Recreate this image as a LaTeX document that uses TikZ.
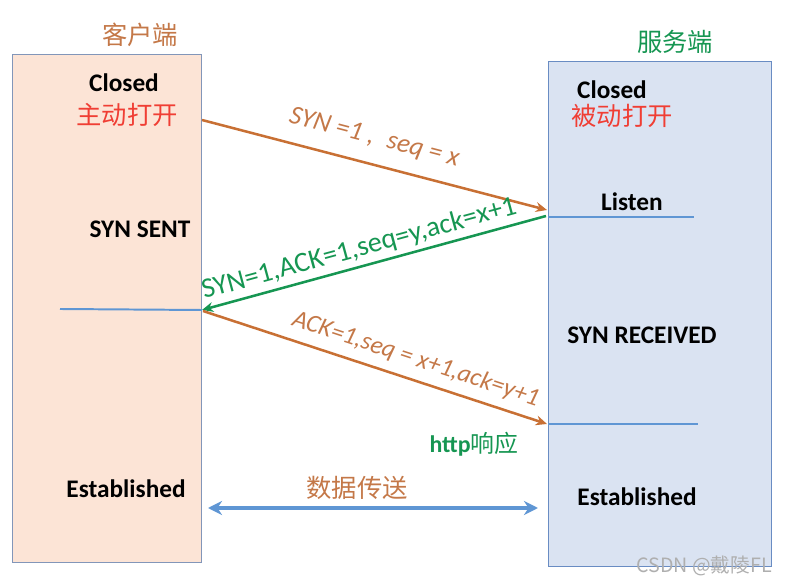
\documentclass[tikz,border=0pt]{standalone}
\usepackage{fontspec}
\setmainfont{Carlito}
\newfontfamily\cjk{Noto Sans CJK SC}
\usetikzlibrary{arrows.meta, positioning, calc}
\definecolor{clientfill}{RGB}{252,228,214}
\definecolor{clientframe}{RGB}{130,150,185}
\definecolor{serverfill}{RGB}{218,227,242}
\definecolor{serverframe}{RGB}{105,140,195}
\definecolor{mybrown}{RGB}{200,112,52}
\definecolor{mybrowntxt}{RGB}{196,120,72}
\definecolor{mygreen}{RGB}{22,150,82}
\definecolor{myblue}{RGB}{95,150,212}
\definecolor{myred}{RGB}{240,62,52}
\definecolor{mymark}{RGB}{175,175,175}
\tikzset{
  clientbox/.style={rectangle, draw=clientframe, fill=clientfill, line width=0.9pt,
    anchor=north west, inner sep=0pt, minimum width=4.725cm, minimum height=12.7cm},
  serverbox/.style={rectangle, draw=serverframe, fill=serverfill, line width=0.9pt,
    anchor=north west, inner sep=0pt, minimum width=5.575cm, minimum height=12.625cm},
  state/.style={font=\fontsize{18}{20}\selectfont\bfseries, text=black, inner sep=1pt},
  opentxt/.style={font=\cjk\fontsize{18}{20}\selectfont, text=myred, inner sep=1pt},
  title/.style={font=\cjk\fontsize{18}{20}\selectfont, inner sep=1pt},
  msg/.style={font=\fontsize{19}{21}\selectfont, sloped, inner sep=1pt},
  brownarrow/.style={-{Stealth[length=8pt,width=7pt]}, line width=1.8pt, color=mybrown},
  greenarrow/.style={-{Stealth[length=8pt,width=7pt]}, line width=1.8pt, color=mygreen},
  stateline/.style={line width=1.4pt, color=myblue},
  dataarrow/.style={{Stealth[length=10pt,width=10pt]}-{Stealth[length=10pt,width=10pt]},
    line width=2.2pt, color=myblue}
}
\begin{document}
\begin{tikzpicture}[x=0.025cm, y=-0.025cm]
  \useasboundingbox (0,0) rectangle (785,583);
  % the two sides
  \node[clientbox] (client) at (12,54) {};
  \node[serverbox] (server) at (548,61) {};
  \node[title, text=mybrowntxt] (clienttitle) at (140,35) {客户端};
  \node[title, text=mygreen] (servertitle) at (675,42) {服务端};

  % client states
  \node[state] (cclosed) at (124,83) {Closed};
  \node[opentxt] (copen) at (127,115) {主动打开};
  \node[state] (synsent) at (140,229) {SYN SENT};
  \node[state] (cest) at (126,489) {Established};

  % server states
  \node[state] (sclosed) at (612,90) {Closed};
  \node[opentxt] (sopen) at (622,116) {被动打开};
  \node[state] (listen) at (632,202) {Listen};
  \node[state] (synrcvd) at (642,335) {SYN RECEIVED};
  \node[state] (sest) at (637,497) {Established};

  % end points of the messages
  \coordinate (c1) at (202,120);
  \coordinate (s1) at (547,210);
  \coordinate (s2) at (546,216);
  \coordinate (c2) at (202,310);
  \coordinate (c3) at (203,311);
  \coordinate (s3) at (547,424);
  \coordinate (cline) at (60,309);
  \coordinate (sline1a) at (548,217);
  \coordinate (sline1b) at (694,217);
  \coordinate (sline2a) at (548,424);
  \coordinate (sline2b) at (698,424);
  \coordinate (dataL) at (208,508);
  \coordinate (dataR) at (538,508);

  \draw[stateline] (cline) -- (c2);
  \draw[stateline] (sline1a) -- (sline1b);
  \draw[stateline] (sline2a) -- (sline2b);

  \draw[brownarrow] (c1) -- node[msg, above=9pt, pos=0.48, text=mybrowntxt]
    {\itshape SYN =1 ,\enspace seq = x} (s1);
  \draw[greenarrow] (s2) -- node[msg, above=2pt, pos=0.53, font=\fontsize{20}{22}\selectfont, text=mygreen]
    {SYN=1,ACK=1,seq=y,ack=x+1} (c2);
  \draw[brownarrow] (c3) -- node[msg, above=5pt, pos=0.6, font=\fontsize{18}{20}\selectfont, text=mybrowntxt]
    {\itshape ACK=1,seq = x+1,ack=y+1} (s3);

  \node[font=\fontsize{17}{19}\selectfont\bfseries, text=mygreen] (http) at (474,444)
    {http{\cjk\mdseries 响应}};
  \draw[dataarrow] (dataL) -- (dataR);
  \node[font=\cjk\fontsize{18}{20}\selectfont, text=mybrowntxt] (datatxt) at (357,488) {数据传送};

  \node[font=\cjk\fontsize{14}{16}\selectfont, text=mymark] (mark) at (704,566) {CSDN @戴陵FL};
\end{tikzpicture}
\end{document}
